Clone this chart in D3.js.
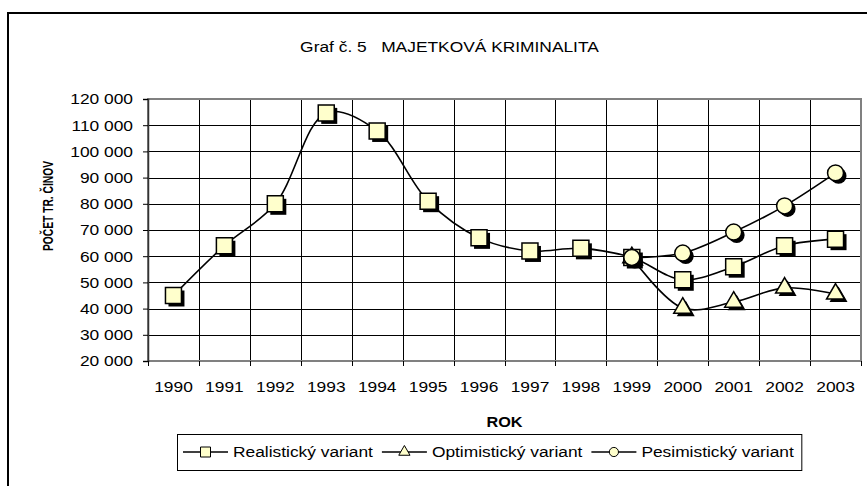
<!DOCTYPE html>
<html>
<head>
<meta charset="utf-8">
<script src="https://cdn.jsdelivr.net/npm/d3@7"></script>
<style>
  body { margin: 0; background: #fff; }
  text { font-family: "Liberation Sans", Arial, sans-serif; fill: #000; }
</style>
</head>
<body>
<div id="chart"></div>
<script>
// chart data
var years = [1990, 1991, 1992, 1993, 1994, 1995, 1996, 1997, 1998, 1999, 2000, 2001, 2002, 2003];
var realisticValues = [45000, 64000, 80000, 114700, 107800, 81000, 67000, 62000, 63000, 59500, 51000, 56000, 64000, 66500];
var variantYears = [1999, 2000, 2001, 2002, 2003];
var optimisticValues = [59500, 40200, 42500, 47900, 45600];
var pessimisticValues = [59500, 61200, 69200, 79200, 91800];
var yTicks = [20000, 30000, 40000, 50000, 60000, 70000, 80000, 90000, 100000, 110000, 120000];
var seriesNames = ["Realistický variant", "Optimistický variant", "Pesimistický variant"];

var series = [
  { name: seriesNames[0], marker: "square", data: years.map((y, i) => ({ year: y, value: realisticValues[i] })) },
  { name: seriesNames[1], marker: "triangle", data: variantYears.map((y, i) => ({ year: y, value: optimisticValues[i] })) },
  { name: seriesNames[2], marker: "circle", data: variantYears.map((y, i) => ({ year: y, value: pessimisticValues[i] })) }
];

//set up graph boundaries
var svgWidth = 867;
var svgHeight = 486;
var margin = { top: 99, right: 6, bottom: 125, left: 148 };
var width = svgWidth - margin.left - margin.right;
var height = svgHeight - margin.top - margin.bottom;

var markerFill = "#ffffcc";
var hStretch = 1.12; // text in the picture is a bit wide

// stretch text horizontally like the source picture
function stretch(sel, k) {
  sel.each(function() {
    var w = this.getComputedTextLength();
    d3.select(this).attr("textLength", w * k).attr("lengthAdjust", "spacingAndGlyphs");
  });
}

function symbolFor(type, big) {
  if (type === "square") return d3.symbol().type(d3.symbolSquare).size(big ? 256 : 100);
  if (type === "triangle") return d3.symbol().type(d3.symbolTriangle).size(big ? 140 : 55);
  return d3.symbol().type(d3.symbolCircle).size(big ? 200 : 66);
}

var svg = d3.select("#chart")
  .append("svg")
  .attr("width", svgWidth)
  .attr("height", svgHeight);

svg.append("rect")
  .attr("width", svgWidth)
  .attr("height", svgHeight)
  .attr("fill", "#fff");

// outer chart frame (runs off the picture at right and bottom)
svg.append("rect")
  .attr("x", 8)
  .attr("y", 13)
  .attr("width", 900)
  .attr("height", 520)
  .attr("fill", "none")
  .attr("stroke", "#000")
  .attr("stroke-width", 2);

// title
svg.append("text")
  .attr("x", 449.5)
  .attr("y", 52)
  .attr("text-anchor", "middle")
  .style("white-space", "pre")
  .style("font-size", "15.5px")
  .text("Graf č. 5   MAJETKOVÁ KRIMINALITA")
  .call(stretch, hStretch);

var chartGroup = svg.append("g")
  .attr("transform", `translate(${margin.left}, ${margin.top})`);

// scales
var xScale = d3.scaleBand()
  .domain(years)
  .range([0, width]);

var yScale = d3.scaleLinear()
  .domain([20000, 120000])
  .range([height, 0]);

var fmt = d => d3.format(",")(d).replace(/,/g, " ");

// gridlines
chartGroup.append("g")
  .selectAll("line")
  .data(yTicks)
  .enter()
  .append("line")
  .attr("x1", 0)
  .attr("x2", width)
  .attr("y1", d => Math.round(yScale(d)) + 0.5)
  .attr("y2", d => Math.round(yScale(d)) + 0.5)
  .attr("stroke", "#000")
  .attr("stroke-width", 1);

chartGroup.append("g")
  .selectAll("line")
  .data(years.slice(1))
  .enter()
  .append("line")
  .attr("x1", d => Math.round(xScale(d)) + 0.5)
  .attr("x2", d => Math.round(xScale(d)) + 0.5)
  .attr("y1", 0)
  .attr("y2", height)
  .attr("stroke", "#000")
  .attr("stroke-width", 1);

// plot area border
chartGroup.append("rect")
  .attr("width", width)
  .attr("height", height)
  .attr("fill", "none")
  .attr("stroke", "#808080")
  .attr("stroke-width", 2);

// y axis
var leftAxis = d3.axisLeft(yScale)
  .tickValues(yTicks)
  .tickSize(5)
  .tickPadding(10)
  .tickFormat(fmt);

var yAxisG = chartGroup.append("g").call(leftAxis);
yAxisG.select(".domain").attr("stroke", "#333").attr("stroke-width", 1.5);
yAxisG.selectAll(".tick line").attr("stroke", "#000");
yAxisG.selectAll(".tick text")
  .style("font-family", "'Liberation Sans', Arial, sans-serif")
  .style("font-size", "15.5px")
  .call(stretch, hStretch);

// x axis: labels at category centres, ticks on category boundaries
var bottomAxis = d3.axisBottom(xScale)
  .tickSize(0)
  .tickPadding(20);

var xAxisG = chartGroup.append("g")
  .attr("transform", `translate(0, ${height})`)
  .call(bottomAxis);
xAxisG.select(".domain").remove();
xAxisG.selectAll(".tick text")
  .style("font-family", "'Liberation Sans', Arial, sans-serif")
  .style("font-size", "15.5px")
  .call(stretch, hStretch);

chartGroup.append("g")
  .selectAll("line")
  .data(years.concat(["end"]))
  .enter()
  .append("line")
  .attr("x1", (d, i) => Math.round(i < years.length ? xScale(d) : width) + 0.5)
  .attr("x2", (d, i) => Math.round(i < years.length ? xScale(d) : width) + 0.5)
  .attr("y1", height)
  .attr("y2", height + 5)
  .attr("stroke", "#000");

// series lines and markers
var line = d3.line()
  .x(d => xScale(d.year) + xScale.bandwidth() / 2)
  .y(d => yScale(d.value))
  .curve(d3.curveCatmullRom);

series.forEach(function(s) {
  var g = chartGroup.append("g");

  g.append("path")
    .datum(s.data)
    .attr("d", line)
    .attr("fill", "none")
    .attr("stroke", "#000")
    .attr("stroke-width", 1.6);

  var sym = symbolFor(s.marker, true);

  g.selectAll(".shadow")
    .data(s.data)
    .enter()
    .append("path")
    .attr("class", "shadow")
    .attr("d", sym)
    .attr("transform", d => `translate(${xScale(d.year) + xScale.bandwidth() / 2 + 3}, ${yScale(d.value) + 3})`)
    .attr("fill", "#000");

  g.selectAll(".marker")
    .data(s.data)
    .enter()
    .append("path")
    .attr("class", "marker")
    .attr("d", sym)
    .attr("transform", d => `translate(${xScale(d.year) + xScale.bandwidth() / 2}, ${yScale(d.value)})`)
    .attr("fill", markerFill)
    .attr("stroke", "#000")
    .attr("stroke-width", 1.5);
});

// axes labels
svg.append("text")
  .attr("transform", "translate(53, 206) rotate(-90)")
  .attr("text-anchor", "middle")
  .style("font-size", "14px")
  .style("font-weight", "bold")
  .attr("textLength", 90)
  .attr("lengthAdjust", "spacingAndGlyphs")
  .text("POČET TR. ČINOV");

svg.append("text")
  .attr("x", margin.left + width / 2)
  .attr("y", 427)
  .attr("text-anchor", "middle")
  .style("font-size", "14.5px")
  .style("font-weight", "bold")
  .text("ROK")
  .call(stretch, hStretch);

// legend
var legendBox = svg.append("rect")
  .attr("y", 434.5)
  .attr("height", 36)
  .attr("fill", "#fff")
  .attr("stroke", "#000")
  .attr("stroke-width", 1);

var legend = svg.append("g");
var cursor = 183;
var legendY = 452;

series.forEach(function(s) {
  legend.append("line")
    .attr("x1", cursor)
    .attr("x2", cursor + 45)
    .attr("y1", legendY)
    .attr("y2", legendY)
    .attr("stroke", "#000")
    .attr("stroke-width", 1.3);

  legend.append("path")
    .attr("d", symbolFor(s.marker, false))
    .attr("transform", `translate(${cursor + 22.5}, ${legendY})`)
    .attr("fill", markerFill)
    .attr("stroke", "#000")
    .attr("stroke-width", 1);

  var t = legend.append("text")
    .attr("x", cursor + 50)
    .attr("y", legendY + 5)
    .style("font-size", "15.5px")
    .text(s.name)
    .call(stretch, hStretch);

  // textLength already holds the stretched width
  cursor = cursor + 50 + (+t.attr("textLength")) + 9;
});

legendBox
  .attr("x", 177.5)
  .attr("width", cursor - 177.5 - 1);
</script>
</body>
</html>
